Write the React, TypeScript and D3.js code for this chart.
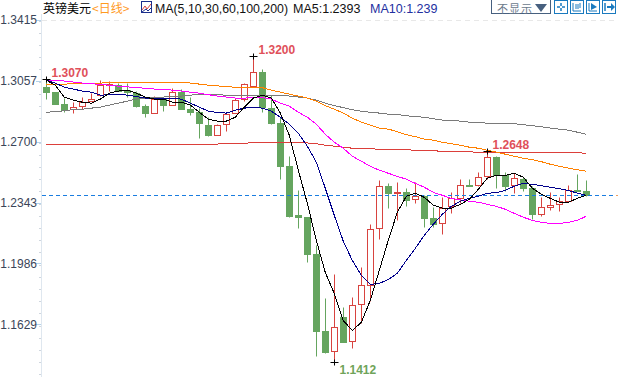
import React from "react";
import * as d3 from "d3";

const tickLabels = [1.3415, 1.3057, 1.27, 1.2343, 1.1986, 1.1629];
const tickText = ["1.3415", "1.3057", "1.2700", "1.2343", "1.1986", "1.1629"];

const opens = [1.3021,1.2992,1.2921,1.2889,1.2910,1.2939,1.2974,1.3033,1.3033,1.3004,
1.2986,1.2910,1.2869,1.2951,1.2916,1.2992,1.2892,1.2874,1.2798,1.2739,
1.2804,1.2869,1.2951,1.3027,1.3109,1.2898,1.2810,1.2558,1.2270,1.2258,
1.2040,1.1588,1.1470,1.1670,1.1529,1.1747,1.1858,1.2193,1.2440,1.2399,
1.2405,1.2363,1.2381,1.2252,1.2222,1.2323,1.2369,1.2446,1.2446,1.2499,
1.2610,1.2504,1.2446,1.2481,1.2428,1.2276,1.2317,1.2334,1.2352,1.2416,1.2410];
const closes = [1.2992,1.2921,1.2886,1.2901,1.2933,1.2951,1.3033,1.3039,1.2998,1.2992,
1.2910,1.2869,1.2951,1.2916,1.2992,1.2892,1.2874,1.2810,1.2739,1.2798,
1.2863,1.2945,1.3039,1.3109,1.2904,1.2810,1.2558,1.2264,1.2258,1.2040,
1.1588,1.1465,1.1611,1.1523,1.1741,1.1858,1.2187,1.2440,1.2399,1.2405,
1.2358,1.2381,1.2252,1.2217,1.2311,1.2369,1.2446,1.2440,1.2493,1.2610,
1.2504,1.2440,1.2487,1.2428,1.2276,1.2317,1.2329,1.2352,1.2416,1.2410,1.2387];
const highs = [1.3070,1.2992,1.2957,1.2933,1.2963,1.2986,1.3062,1.3056,1.3045,1.3045,
1.2998,1.2921,1.2968,1.2957,1.3015,1.3010,1.2963,1.2898,1.2845,1.2804,
1.2874,1.2957,1.3045,1.3200,1.3127,1.2974,1.2845,1.2616,1.2416,1.2258,
1.2093,1.1782,1.1922,1.1729,1.1788,1.1964,1.2216,1.2475,1.2457,1.2463,
1.2428,1.2463,1.2387,1.2317,1.2375,1.2405,1.2481,1.2481,1.2522,1.2648,
1.2616,1.2522,1.2516,1.2493,1.2440,1.2375,1.2405,1.2375,1.2446,1.2510,1.2475];
const lows = [1.2951,1.2921,1.2874,1.2868,1.2892,1.2939,1.2968,1.2998,1.2998,1.2963,
1.2904,1.2845,1.2869,1.2880,1.2916,1.2892,1.2857,1.2722,1.2734,1.2739,
1.2763,1.2869,1.2939,1.3027,1.2874,1.2804,1.2481,1.2258,1.2193,1.1993,
1.1441,1.1459,1.1412,1.1523,1.1488,1.1635,1.1764,1.2129,1.2311,1.2240,
1.2323,1.2340,1.2199,1.2199,1.2158,1.2281,1.2340,1.2440,1.2440,1.2481,
1.2428,1.2410,1.2399,1.2410,1.2246,1.2264,1.2299,1.2293,1.2352,1.2410,1.2381];

const ma5 = [1.3062,1.3033,1.2963,1.2945,1.2933,1.2927,1.2951,1.2986,1.2998,1.3004,
1.2986,1.2963,1.2951,1.2951,1.2933,1.2933,1.2916,1.2874,1.2833,1.2822,
1.2822,1.2845,1.2904,1.2957,1.2974,1.2957,1.2869,1.2739,1.2534,1.2340,
1.2123,1.1934,1.1811,1.1652,1.1594,1.1641,1.1770,1.1946,1.2123,1.2287,
1.2381,1.2399,1.2375,1.2329,1.2311,1.2311,1.2334,1.2363,1.2422,1.2487,
1.2504,1.2504,1.2516,1.2493,1.2428,1.2393,1.2369,1.2346,1.2346,1.2369,1.2387];
const ma10 = [1.3062,1.3045,1.3021,1.3010,1.2998,1.2992,1.2974,1.2977,1.2980,1.2974,
1.2966,1.2957,1.2957,1.2957,1.2957,1.2951,1.2927,1.2904,1.2880,1.2872,
1.2869,1.2886,1.2898,1.2904,1.2898,1.2880,1.2845,1.2804,1.2751,1.2675,
1.2581,1.2428,1.2269,1.2117,1.2005,1.1917,1.1864,1.1870,1.1893,1.1929,
1.2005,1.2076,1.2152,1.2217,1.2275,1.2322,1.2352,1.2369,1.2381,1.2399,
1.2402,1.2416,1.2440,1.2457,1.2451,1.2443,1.2434,1.2425,1.2416,1.2399,1.2387];
const ma30 = [1.3062,1.3061,1.3057,1.3051,1.3045,1.3042,1.3036,1.3033,1.3027,1.3023,
1.3018,1.3015,1.3010,1.3007,1.3004,1.2998,1.2992,1.2986,1.2977,1.2969,
1.2963,1.2957,1.2957,1.2960,1.2960,1.2951,1.2927,1.2910,1.2874,1.2845,
1.2804,1.2745,1.2698,1.2663,1.2616,1.2587,1.2557,1.2534,1.2516,1.2498,
1.2481,1.2457,1.2434,1.2404,1.2387,1.2369,1.2360,1.2352,1.2346,1.2334,
1.2322,1.2305,1.2281,1.2258,1.2240,1.2228,1.2222,1.2222,1.2228,1.2240,1.2264];
const ma60 = [1.3039,1.3039,1.3039,1.3041,1.3042,1.3043,1.3045,1.3048,1.3048,1.3049,
1.3050,1.3051,1.3051,1.3051,1.3051,1.3051,1.3045,1.3039,1.3033,1.3029,
1.3024,1.3021,1.3021,1.3021,1.3018,1.3004,1.2992,1.2980,1.2969,1.2957,
1.2939,1.2913,1.2892,1.2869,1.2839,1.2816,1.2798,1.2781,1.2775,1.2760,
1.2742,1.2731,1.2716,1.2710,1.2698,1.2689,1.2681,1.2669,1.2663,1.2651,
1.2640,1.2628,1.2616,1.2604,1.2596,1.2584,1.2569,1.2557,1.2546,1.2537,1.2528];
const ma100 = [1.2874,1.2877,1.2883,1.2889,1.2892,1.2898,1.2904,1.2916,1.2927,1.2939,
1.2951,1.2957,1.2960,1.2963,1.2966,1.2969,1.2974,1.2979,1.2980,1.2977,
1.2974,1.2974,1.2974,1.2974,1.2974,1.2974,1.2974,1.2969,1.2963,1.2957,
1.2945,1.2927,1.2913,1.2901,1.2889,1.2880,1.2874,1.2869,1.2863,1.2860,
1.2854,1.2848,1.2845,1.2836,1.2828,1.2825,1.2822,1.2816,1.2813,1.2810,
1.2810,1.2810,1.2807,1.2801,1.2795,1.2789,1.2781,1.2775,1.2769,1.2757,1.2745];
const ma200 = [1.2684,1.2684,1.2684,1.2684,1.2684,1.2684,1.2684,1.2684,1.2684,1.2684,
1.2684,1.2684,1.2684,1.2684,1.2687,1.2687,1.2687,1.2687,1.2687,1.2687,
1.2692,1.2692,1.2692,1.2696,1.2696,1.2696,1.2696,1.2694,1.2694,1.2694,
1.2689,1.2681,1.2675,1.2669,1.2663,1.2663,1.2660,1.2657,1.2657,1.2654,
1.2654,1.2651,1.2651,1.2648,1.2645,1.2645,1.2642,1.2642,1.2639,1.2639,
1.2639,1.2639,1.2639,1.2639,1.2639,1.2639,1.2639,1.2639,1.2637,1.2636,1.2634];

const markers = [
  { i: 0, text: "1.3070" },
  { i: 23, text: "1.3200" },
  { i: 32, text: "1.1412" },
  { i: 49, text: "1.2648" },
];

const UP = "#d8433f";
const DOWN = "#65a55f";

const x = d3.scaleLinear().domain([0, 60]).range([46.3, 586.3]);
const y = d3.scaleLinear().domain([1.3415, 1.1629]).range([20, 324.5]);
const cx = (i: number) => Math.floor(x(i)) + 0.5;
const py = (v: number) => Math.round(y(v) - 0.2) + 0.5;

const lineGen = d3
  .line<number>()
  .x((_, i) => x(i))
  .y((d) => y(d));

const series = [
  { values: ma100, color: "#7a7a7a" },
  { values: ma200, color: "#dc3f3a" },
  { values: ma60, color: "#ff8000" },
  { values: ma30, color: "#ff00ff" },
  { values: ma10, color: "#00008b" },
  { values: ma5, color: "#000000" },
];

const sans = "'Liberation Sans', Arial, sans-serif";
const cjk = "'Noto Sans CJK SC', sans-serif";
const minorStep = 61 / 5;

export default function App() {
  const minor = d3.range(0, 30).map((k) => 20.5 + k * minorStep);
  const last = closes[closes.length - 1];
  return (
    <svg
      width={618}
      height={377}
      style={{ position: "absolute", left: 0, top: 0, background: "#fff" }}
      fontFamily={sans}
    >
      {/* axis */}
      <line x1={41.5} x2={41.5} y1={14} y2={377} stroke="#dfe7ef" />
      {minor.map((m, k) => (
        <line key={k} x1={39} x2={41} y1={Math.round(m) + 0.5} y2={Math.round(m) + 0.5} stroke="#cfd6de" />
      ))}
      {tickLabels.map((t, k) => (
        <g key={t}>
          <line x1={36} x2={41} y1={py(t)} y2={py(t)} stroke="#b5d3ea" />
          <text x={37} y={y(t) + 4} textAnchor="end" fontSize={12} fill="#3a4558">
            {tickText[k]}
          </text>
        </g>
      ))}
      <line x1={42} x2={618} y1={20.5} y2={20.5} stroke="#e8e8e8" strokeDasharray="5,4" />

      {/* candles */}
      {opens.map((o, i) => {
        const c = closes[i];
        const up = c >= o;
        const col = up ? UP : DOWN;
        const top = py(Math.max(o, c));
        const bot = py(Math.min(o, c));
        return (
          <g key={i}>
            <line x1={cx(i)} x2={cx(i)} y1={py(highs[i])} y2={py(lows[i])} stroke={col} />
            <rect
              x={cx(i) - 3}
              y={top}
              width={6}
              height={Math.max(bot - top, 1)}
              fill={up ? "#fff" : col}
              stroke={col}
            />
          </g>
        );
      })}

      {/* last price */}
      <line x1={42} x2={616} y1={py(last)} y2={py(last)} stroke="#1a7de0" strokeDasharray="4,3" />
      <line x1={616} x2={618} y1={py(last)} y2={py(last)} stroke="#f0a060" />

      {/* moving averages */}
      {series.map((s, k) => (
        <path
          key={k}
          d={lineGen(s.values) ?? ""}
          fill="none"
          stroke={s.color}
          strokeWidth={1}
          shapeRendering="crispEdges"
        />
      ))}

      {/* extreme markers */}
      {markers.map(({ i, text }) => {
        const isLow = text === "1.1412";
        const yy = py(isLow ? lows[i] : highs[i]) + (isLow ? 1 : 0);
        return (
          <g key={text}>
            <line x1={cx(i) - 4} x2={cx(i) + 4} y1={yy} y2={yy} stroke="#000" />
            <line x1={cx(i)} x2={cx(i)} y1={yy - 3} y2={yy + 3} stroke="#000" />
            <text
              x={cx(i) + 5}
              y={isLow ? yy + 11 : yy - 3}
              fontSize={12}
              fontWeight="bold"
              fill={isLow ? "#6fa45a" : "#e0505a"}
            >
              {text}
            </text>
          </g>
        );
      })}

      {/* header */}
      <text x={43} y={13} fontSize={12} fontFamily={cjk} fill="#000">英镑美元</text>
      <text x={92} y={13} fontSize={12} fontFamily={cjk} fill="#ff9a1f">&lt;日线&gt;</text>
      <rect x={141.5} y={1.5} width={10} height={11} fill="#fff" stroke="#1b2f8c" />
      <path d="M142 10 L145 6 L147 9 L151 4" fill="none" stroke="#d8433f" />
      <path d="M142 12 L146 9 L148 11 L151 8" fill="none" stroke="#1b2f8c" />
      <text x={155} y={13} fontSize={12.5} textLength={133} lengthAdjust="spacingAndGlyphs" fill="#111">MA(5,10,30,60,100,200)</text>
      <text x={293} y={13} fontSize={12.5} fill="#111">MA5:1.2393</text>
      <text x={370} y={13} fontSize={12.5} fill="#23309f">MA10:1.239</text>

      <rect x={491.5} y={-1.5} width={59} height={15} fill="#fff" stroke="#47607f" />
      <text x={497} y={12.8} fontSize={11} letterSpacing={1} fontFamily={cjk} fill="#6b7a8c">不显示</text>
      <path d="M535 4 L547 4 L541 12 Z" fill="#47607f" />

      {[554, 570, 586, 602].map((bx, k) => (
        <g key={bx}>
          <rect x={bx + 0.5} y={0.5} width={13} height={13} fill="#fff" stroke="#1a7abf" strokeWidth={1} />
          {k === 0 && (
            <path d="M561 3V6M561 8V11M557 7H560M562 7H565" fill="none" stroke="#1a7abf" strokeWidth={1.5} />
          )}
          {k === 1 && (
            <path d="M573 3V11H581M576 4V9M578 4V9M580 3V8" fill="none" stroke="#1a7abf" />
          )}
          {k === 2 && (
            <g>
              <path d="M589 3V11H597" fill="none" stroke="#1a7abf" />
              <path d="M591 3L597 7L591 10Z" fill="#1a7abf" />
            </g>
          )}
          {k === 3 && (
            <g>
              <path d="M605 3V11" fill="none" stroke="#1a7abf" strokeWidth={1.5} />
              <path d="M607 6H611V3L615 7L611 11V8H607Z" fill="#1a7abf" />
            </g>
          )}
        </g>
      ))}
    </svg>
  );
}
